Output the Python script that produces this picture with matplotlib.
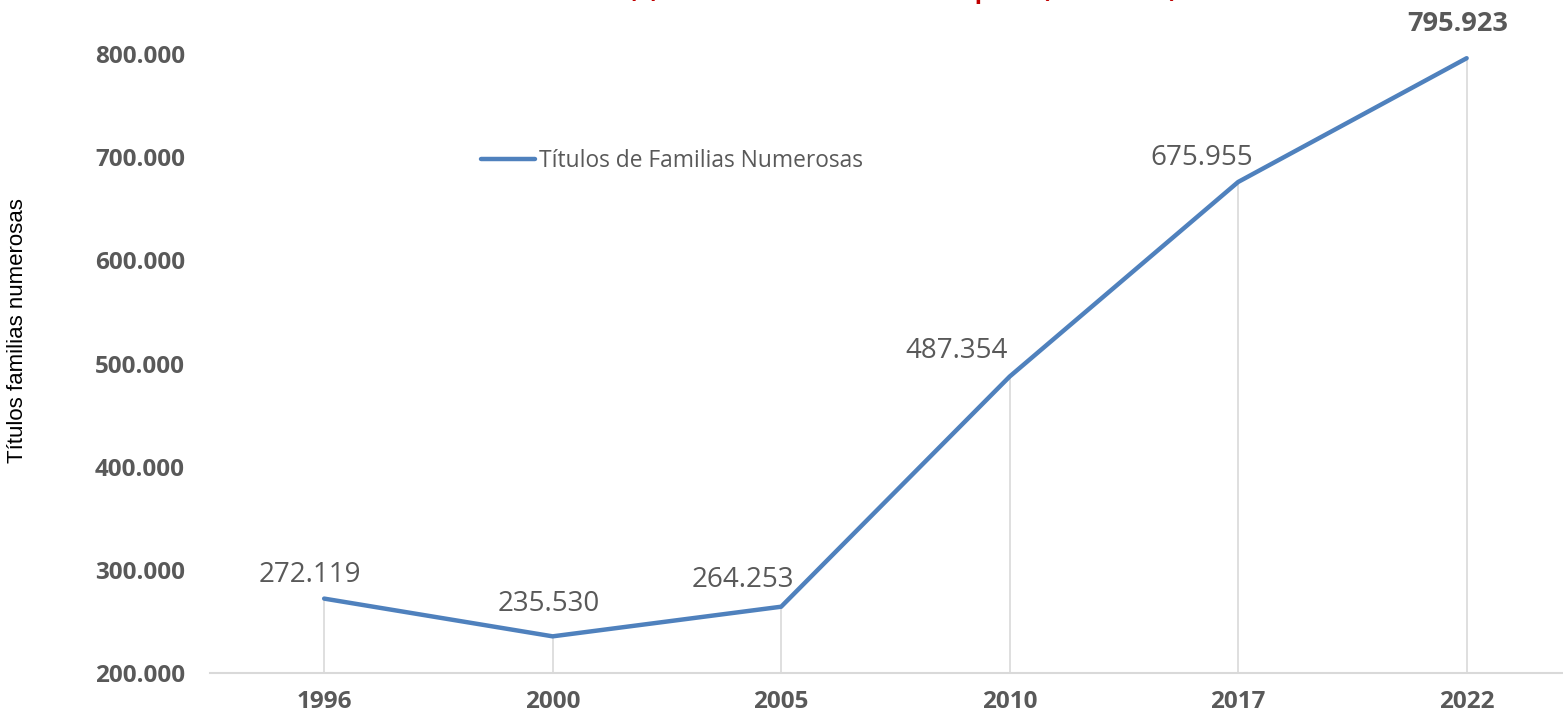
import matplotlib
matplotlib.use("Agg")
import matplotlib.pyplot as plt
from matplotlib.ticker import FuncFormatter

# ---- data ----
years = ["1996", "2000", "2005", "2010", "2017", "2022"]
values = [272119, 235530, 264253, 487354, 675955, 795923]
y_ticks = [200000, 300000, 400000, 500000, 600000, 700000, 800000]
series_name = "Títulos de Familias Numerosas"
y_label = "Títulos familias numerosas"
title = "Gráfico (1) Familias numerosas en España (1996-2022)"

# ---- style (label offsets in pixels: dx, baseline above point) ----
label_offsets = [(-14, 17), (-4, 25), (-38, 20), (-53, 19), (-36, 17), (-9, 27)]
label_bold = [False, False, False, False, False, True]

W, H = 1563, 712
fig = plt.figure(figsize=(W / 100, H / 100), dpi=100)
left, right, bottom, top = 209.9, 209.9 + 1371, 673, 54
ax = fig.add_axes([left / W, 1 - bottom / H, (right - left) / W, (bottom - top) / H])

x = list(range(len(years)))
ax.vlines(x, y_ticks[0], values, color="#D9D9D9", lw=1.2, zorder=1)
ax.plot(x, values, color="#4F81BD", lw=3.2, solid_capstyle="round",
        solid_joinstyle="round", label=series_name, zorder=3, clip_on=False)

ax.set_xlim(-0.5, len(years) - 0.5)
ax.set_ylim(y_ticks[0], y_ticks[-1])
ax.set_xticks(x)
ax.set_xticklabels(years)
ax.set_yticks(y_ticks)
ax.yaxis.set_major_formatter(FuncFormatter(lambda v, p: f"{v:,.0f}".replace(",", ".")))

for s in ["top", "right", "left"]:
    ax.spines[s].set_visible(False)
ax.spines["bottom"].set_color("#D9D9D9")
ax.spines["bottom"].set_linewidth(1.5)
ax.tick_params(length=0, labelcolor="#595959")
ax.tick_params(axis="y", pad=18)
ax.tick_params(axis="x", pad=12)
for lab in ax.get_xticklabels() + ax.get_yticklabels():
    lab.set_fontfamily("Open Sans")
    lab.set_fontweight("bold")
    lab.set_fontsize(17.5)

for xi, v, (dx, dy), b in zip(x, values, label_offsets, label_bold):
    ax.annotate(f"{v:,.0f}".replace(",", "."), (xi, v), xytext=(dx, dy),
                textcoords="offset pixels", ha="center", va="baseline",
                fontsize=19.5 if b else 20, fontweight="bold" if b else "normal",
                color="#595959", family="Open Sans", annotation_clip=False)

leg = ax.legend(loc="center left", bbox_to_anchor=(481 / W, 1 - 161 / H),
                bbox_transform=fig.transFigure, frameon=False,
                prop={"family": "Open Sans", "size": 16.4},
                handlelength=2.35, handletextpad=0.2, borderpad=0, borderaxespad=0)
for t in leg.get_texts():
    t.set_color("#595959")

fig.text(1177 / W, 1 + 2 / H, title, ha="right", va="baseline", color="#C00000",
         fontweight="bold", fontsize=17.5, family="Open Sans")
fig.text(18 / W, 1 - 331 / H, y_label, rotation=90, ha="center", va="center",
         family="Liberation Sans", fontsize=16, color="#000000")

fig.savefig("out.png", dpi=100)
